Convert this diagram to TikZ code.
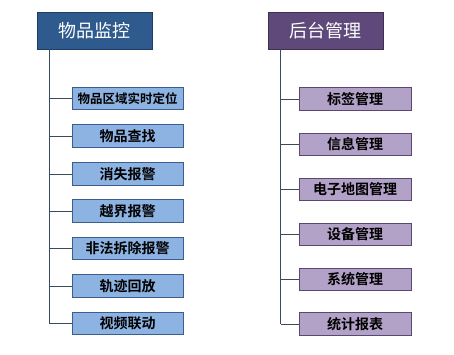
\documentclass[tikz,border=0pt]{standalone}
\usepackage{fontspec}
\newfontfamily\cjk{Noto Sans CJK SC}[BoldFont={Noto Sans CJK SC Bold}]
\definecolor{hdrblue}{HTML}{2F5A8E}
\definecolor{hdrblueb}{HTML}{1F3D63}
\definecolor{hdrpurple}{HTML}{5F497A}
\definecolor{hdrpurpleb}{HTML}{3F3052}
\definecolor{kidblue}{HTML}{8DB3E2}
\definecolor{kidblueb}{HTML}{3A5F8C}
\definecolor{kidpurple}{HTML}{B3A2C7}
\definecolor{kidpurpleb}{HTML}{5A4872}
\definecolor{linec}{HTML}{3C4A5E}
\begin{document}
\begin{tikzpicture}[x=1pt,y=-1pt,
  hdr/.style={draw, line width=0.8pt, minimum width=115pt, minimum height=37pt, inner sep=0pt, text=white, font=\cjk\fontsize{18}{20}\selectfont},
  lhdr/.style={hdr, fill=hdrblue, draw=hdrblueb},
  rhdr/.style={hdr, fill=hdrpurple, draw=hdrpurpleb},
  kid/.style={draw, line width=0.8pt, minimum height=22.5pt, inner sep=0pt, text=black, font=\cjk\bfseries\fontsize{14}{16}\selectfont},
  lkid/.style={kid, fill=kidblue, draw=kidblueb, minimum width=111pt},
  rkid/.style={kid, fill=kidpurple, draw=kidpurpleb, minimum width=112pt},
  conn/.style={draw=linec, line width=0.8pt}]
\path[use as bounding box, fill=white] (0,0) rectangle (454,354);
% left
\node[lhdr] (L) at (94.5,30.5) {物品监控};
\node[lkid, font=\cjk\bfseries\fontsize{12.5}{14}\selectfont] (L1) at (127.5,98.5) {物品区域实时定位};
\node[lkid] (L2) at (127.5,136) {物品查找};
\node[lkid] (L3) at (127.5,174) {消失报警};
\node[lkid] (L4) at (127.5,211) {越界报警};
\node[lkid] (L5) at (127.5,248.5) {非法拆除报警};
\node[lkid] (L6) at (127.5,286) {轨迹回放};
\node[lkid] (L7) at (127.5,323.5) {视频联动};
\coordinate (Ltop) at ([xshift=13pt]L.south west);
\coordinate (Lbot) at (Ltop |- L7.west);
\draw[conn] (Ltop) -- (Lbot);
\foreach \i in {1,...,7}{
  \draw[conn] (Ltop |- L\i.west) -- (L\i.west);
}
% right
\node[rhdr] (R) at (325.5,30.5) {后台管理};
\node[rkid] (R1) at (355,99) {标签管理};
\node[rkid] (R2) at (355,144.5) {信息管理};
\node[rkid] (R3) at (355,189.5) {电子地图管理};
\node[rkid] (R4) at (355,234.5) {设备管理};
\node[rkid] (R5) at (355,279.5) {系统管理};
\node[rkid] (R6) at (355,324) {统计报表};
\coordinate (Rtop) at ([xshift=13pt]R.south west);
\coordinate (Rbot) at (Rtop |- R6.west);
\draw[conn] (Rtop) -- (Rbot);
\foreach \i in {1,...,6}{
  \draw[conn] (Rtop |- R\i.west) -- (R\i.west);
}
\end{tikzpicture}
\end{document}
